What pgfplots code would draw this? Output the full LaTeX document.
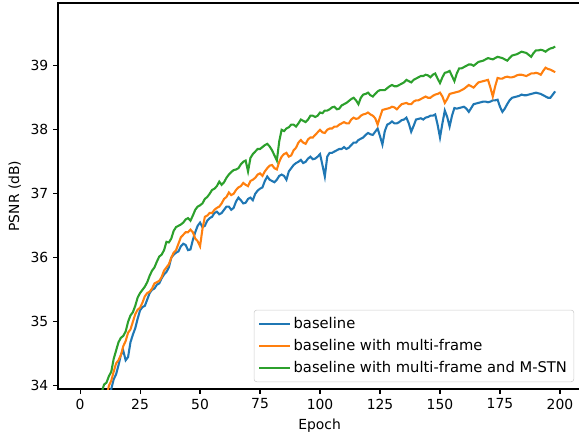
\documentclass[border=0pt]{standalone}
\usepackage{fontspec}
\setmainfont{DejaVu Sans}
\usepackage{pgfplots}
\pgfplotsset{compat=1.18}
\usepackage{pgfplotstable}

\definecolor{mplblue}{HTML}{1F77B4}
\definecolor{mplorange}{HTML}{FF7F0E}
\definecolor{mplgreen}{HTML}{2CA02C}

% PSNR per epoch
\pgfplotstableread{
epoch base multi mstn
0   30.00 30.50 31.20
1   30.40 30.90 31.60
2   30.80 31.30 32.00
3   31.15 31.65 32.35
4   31.50 32.00 32.70
5   31.85 32.30 32.95
6   32.20 32.60 33.20
7   32.50 32.85 33.45
8   32.80 33.10 33.65
9   33.05 33.35 33.90
10  33.30 33.60 34.02
11  33.55 33.82 34.05
12  33.75 34.00 34.15
13  33.95 34.08 34.22
14  34.10 34.22 34.42
15  34.18 34.35 34.55
16  34.32 34.40 34.68
17  34.48 34.48 34.75
18  34.55 34.62 34.78
19  34.40 34.70 34.85
20  34.45 34.83 35.00
21  34.68 34.88 35.10
22  34.80 35.00 35.15
23  34.90 35.12 35.25
24  35.05 35.19 35.38
25  35.18 35.22 35.45
26  35.23 35.30 35.50
27  35.25 35.40 35.55
28  35.35 35.45 35.62
29  35.45 35.47 35.72
30  35.50 35.52 35.80
31  35.52 35.60 35.85
32  35.58 35.62 35.94
33  35.60 35.64 36.02
34  35.68 35.70 36.05
35  35.74 35.80 36.12
36  35.78 35.85 36.25
37  35.85 35.90 36.24
38  36.00 36.00 36.30
39  36.05 36.08 36.42
40  36.08 36.12 36.48
41  36.10 36.22 36.50
42  36.18 36.32 36.52
43  36.22 36.36 36.55
44  36.20 36.40 36.60
45  36.12 36.40 36.62
46  36.13 36.44 36.58
47  36.28 36.40 36.66
48  36.40 36.30 36.75
49  36.50 36.26 36.80
50  36.55 36.18 36.82
51  36.48 36.45 36.85
52  36.50 36.64 36.92
53  36.58 36.66 36.95
54  36.62 36.70 37.00
55  36.64 36.70 37.06
56  36.70 36.75 37.08
57  36.72 36.78 37.12
58  36.68 36.80 37.19
59  36.70 36.85 37.14
60  36.75 36.92 37.18
61  36.80 36.95 37.25
62  36.80 37.02 37.30
63  36.75 36.98 37.34
64  36.78 37.00 37.37
65  36.88 37.06 37.38
66  36.94 37.10 37.40
67  36.90 37.12 37.46
68  36.85 37.17 37.50
69  36.86 37.14 37.52
70  36.92 37.12 37.35
71  36.94 37.20 37.56
72  36.90 37.22 37.62
73  37.00 37.25 37.66
74  37.05 37.30 37.70
75  37.08 37.32 37.70
76  37.10 37.28 37.73
77  37.20 37.35 37.76
78  37.27 37.40 37.78
79  37.22 37.44 37.74
80  37.20 37.45 37.68
81  37.18 37.40 37.60
82  37.22 37.38 37.52
83  37.28 37.50 37.82
84  37.30 37.58 38.00
85  37.28 37.62 37.98
86  37.22 37.64 38.02
87  37.35 37.58 38.04
88  37.40 37.60 38.08
89  37.45 37.68 38.08
90  37.48 37.72 38.05
91  37.50 37.80 38.10
92  37.53 37.84 38.16
93  37.48 37.80 38.14
94  37.50 37.78 38.12
95  37.55 37.85 38.16
96  37.58 37.88 38.22
97  37.54 37.88 38.22
98  37.55 37.92 38.20
99  37.58 37.96 38.22
100 37.62 38.00 38.27
101 37.45 37.96 38.26
102 37.27 37.95 38.30
103 37.58 38.00 38.30
104 37.64 38.02 38.32
105 37.64 38.02 38.35
106 37.66 38.05 38.36
107 37.68 38.05 38.32
108 37.70 38.08 38.33
109 37.70 38.10 38.38
110 37.73 38.12 38.40
111 37.70 38.10 38.42
112 37.72 38.10 38.45
113 37.76 38.16 38.48
114 37.80 38.19 38.50
115 37.80 38.17 38.46
116 37.84 38.18 38.40
117 37.86 38.22 38.50
118 37.88 38.24 38.55
119 37.92 38.25 38.56
120 37.95 38.27 38.58
121 37.93 38.24 38.54
122 37.92 38.22 38.52
123 37.97 38.18 38.56
124 38.02 38.08 38.60
125 37.90 38.20 38.62
126 37.77 38.31 38.62
127 37.98 38.32 38.62
128 38.08 38.33 38.65
129 38.10 38.34 38.68
130 38.13 38.36 38.70
131 38.10 38.35 38.68
132 38.10 38.32 38.68
133 38.12 38.36 38.70
134 38.15 38.40 38.72
135 38.16 38.41 38.74
136 38.19 38.42 38.78
137 38.10 38.40 38.76
138 37.97 38.40 38.74
139 38.06 38.44 38.78
140 38.16 38.46 38.80
141 38.17 38.46 38.82
142 38.18 38.48 38.84
143 38.16 38.50 38.84
144 38.19 38.52 38.86
145 38.20 38.50 38.85
146 38.22 38.50 38.82
147 38.22 38.53 38.86
148 38.24 38.55 38.88
149 38.08 38.56 38.80
150 37.88 38.58 38.73
151 38.10 38.52 38.82
152 38.30 38.42 38.89
153 38.20 38.48 38.90
154 38.05 38.56 38.92
155 38.22 38.57 38.84
156 38.34 38.58 38.76
157 38.33 38.59 38.88
158 38.34 38.60 38.96
159 38.35 38.62 38.96
160 38.36 38.64 38.98
161 38.33 38.67 39.00
162 38.28 38.70 39.02
163 38.34 38.68 39.02
164 38.40 38.66 39.00
165 38.41 38.70 39.03
166 38.42 38.74 39.06
167 38.43 38.75 39.07
168 38.44 38.76 39.08
169 38.44 38.77 39.10
170 38.43 38.78 39.12
171 38.44 38.66 39.11
172 38.46 38.52 39.10
173 38.46 38.68 39.12
174 38.47 38.81 39.14
175 38.36 38.80 39.13
176 38.28 38.80 39.12
177 38.33 38.82 39.10
178 38.40 38.83 39.08
179 38.46 38.82 39.12
180 38.50 38.82 39.16
181 38.51 38.83 39.17
182 38.52 38.85 39.18
183 38.53 38.86 39.20
184 38.55 38.86 39.22
185 38.54 38.85 39.21
186 38.54 38.84 39.20
187 38.55 38.86 39.17
188 38.56 38.88 39.14
189 38.57 38.88 39.20
190 38.58 38.89 39.24
191 38.57 38.88 39.24
192 38.56 38.86 39.25
193 38.54 38.92 39.24
194 38.52 38.97 39.22
195 38.50 38.95 39.25
196 38.50 38.94 39.27
197 38.55 38.92 39.28
198 38.60 38.90 39.30
}\psnr

\begin{document}
\begin{tikzpicture}[font=\fontsize{10pt}{12pt}\selectfont]
\begin{axis}[
    name=ax,
    scale only axis,
    width=376.6pt,
    height=277.9pt,
    xmin=-9.2, xmax=208.8,
    ymin=33.95, ymax=39.98,
    xtick={0,25,...,200},
    ytick={34,35,...,39},
    tick align=outside,
    tick pos=left,
    major tick length=3.5pt,
    axis line style={line width=0.8pt},
    every tick/.style={black, line width=0.8pt},
    /pgf/number format/assume math mode=true,
    xlabel={Epoch},
    ylabel={PSNR (dB)},
    legend cell align=left,
    legend style={
        at={(axis description cs:1,0)}, anchor=south east,
        xshift=-5pt, yshift=5pt,
        draw=black!20, rounded corners=2pt,
        inner xsep=3pt, inner ysep=3pt,
        row sep=2.5pt,
        font=\fontsize{10.6pt}{12.7pt}\selectfont,
    },
    legend image code/.code={\draw[#1] (0pt,0pt) -- (22pt,0pt);},
]
\addplot[mplblue, line width=1.5pt] table[x=epoch, y=base] {\psnr};
\addlegendentry{baseline}
\addplot[mplorange, line width=1.5pt] table[x=epoch, y=multi] {\psnr};
\addlegendentry{baseline with multi-frame}
\addplot[mplgreen, line width=1.5pt] table[x=epoch, y=mstn] {\psnr};
\addlegendentry{baseline with multi-frame and M-STN}
\end{axis}
\pgfresetboundingbox
\path[use as bounding box] ([shift={(-41.76pt,-34.56pt)}]ax.south west)
    rectangle ([shift={(375.1pt,280.1pt)}]ax.south west);
\end{tikzpicture}
\end{document}
